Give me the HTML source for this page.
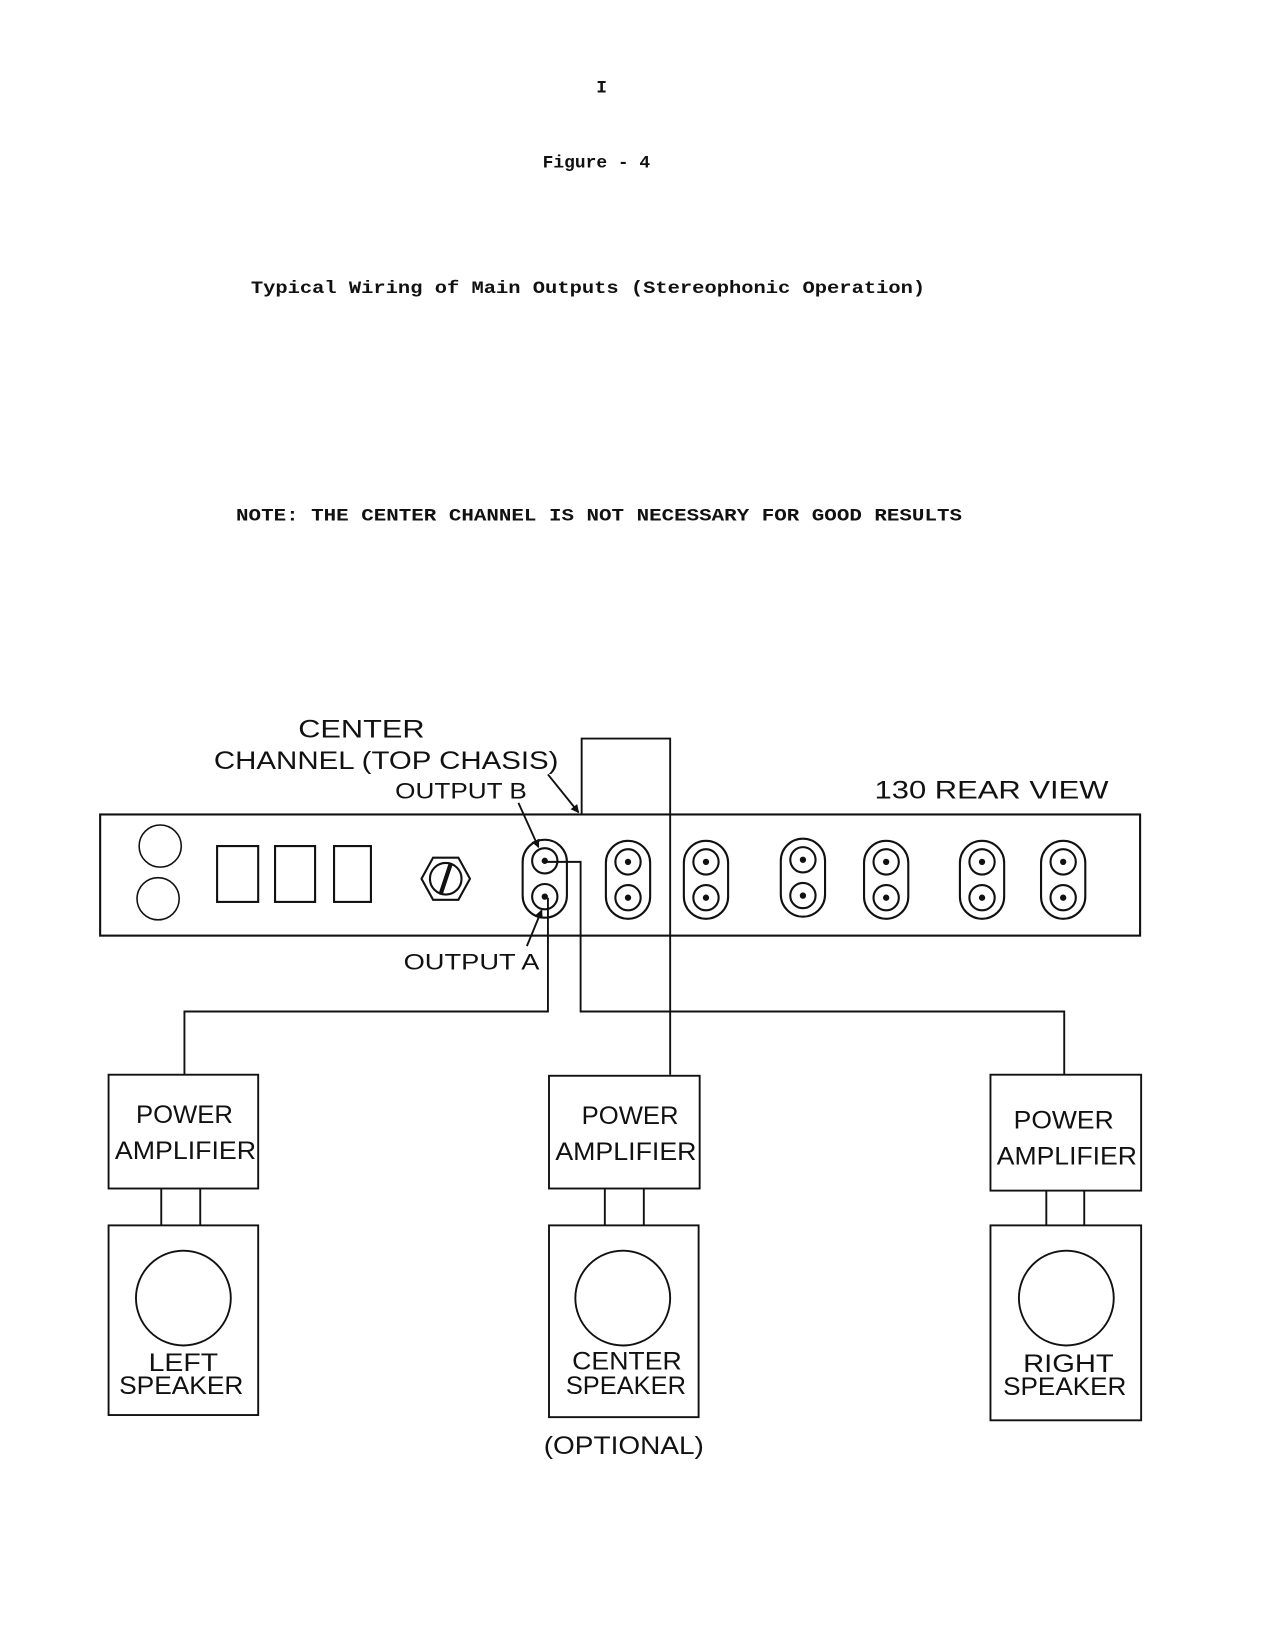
<!DOCTYPE html>
<html><head><meta charset="utf-8"><style>
html,body{margin:0;padding:0;background:#fff;}
svg{display:block;}
.m{font-family:"Liberation Mono",monospace;font-weight:bold;fill:#111;}
.h{font-family:"Liberation Sans",sans-serif;fill:#111;}
</style></head><body>
<svg width="1275" height="1650" viewBox="0 0 1210 1566" xmlns="http://www.w3.org/2000/svg">
<defs><marker id="ar" markerWidth="8" markerHeight="8" refX="7" refY="4" orient="auto" markerUnits="userSpaceOnUse"><path d="M0,0 L8,4 L0,8 z" fill="#111"/></marker>
<g id="j"><rect x="-21" y="-37" width="42" height="74" rx="21"/><circle cx="0" cy="-17" r="12"/><circle cx="0" cy="17" r="12"/><circle cx="0" cy="-17" r="2" fill="#111"/><circle cx="0" cy="17" r="2" fill="#111"/></g>
</defs>
<text class="m" x="571" y="88" font-size="17" text-anchor="middle">I</text>
<text class="m" x="566" y="159" font-size="17" text-anchor="middle">Figure - 4</text>
<text class="m" x="238" y="278" font-size="17" textLength="640" lengthAdjust="spacingAndGlyphs">Typical Wiring of Main Outputs (Stereophonic Operation)</text>
<text class="m" x="224" y="494" font-size="17" textLength="689" lengthAdjust="spacingAndGlyphs">NOTE:  THE CENTER CHANNEL IS NOT NECESSARY FOR GOOD RESULTS</text>

<g fill="none" stroke="#111" stroke-width="2">
<rect x="95" y="773" width="987" height="115"/>
<circle cx="152" cy="803" r="20" stroke-width="1.5"/>
<circle cx="150" cy="853" r="20" stroke-width="1.5"/>
<rect x="206" y="803" width="39" height="53"/>
<rect x="261" y="803" width="38" height="53"/>
<rect x="317" y="803" width="35" height="53"/>
<polygon points="400,834 411,814 435,814 446,834 435,854 411,854"/>
<circle cx="423" cy="834" r="15"/>
<line x1="418" y1="849" x2="428" y2="819" stroke-width="4"/>
</g>
<g fill="none" stroke="#111" stroke-width="2">
<use href="#j" x="517" y="834"/>
<use href="#j" x="596" y="835"/>
<use href="#j" x="670" y="835"/>
<use href="#j" x="762" y="833"/>
<use href="#j" x="841" y="835"/>
<use href="#j" x="932" y="835"/>
<use href="#j" x="1009" y="835"/>
</g>
<g fill="none" stroke="#111" stroke-width="1.8">
<polyline points="552,773 552,701 636,701 636,1020"/>
<polyline points="517,818 551,818 551,960 1010,960 1010,1020"/>
<polyline points="520,852 520,960 175,960 175,1020"/>
<line x1="520" y1="735" x2="549" y2="771" marker-end="url(#ar)"/>
<line x1="492" y1="762" x2="511" y2="804" marker-end="url(#ar)"/>
<line x1="500" y1="898" x2="514" y2="864" marker-end="url(#ar)"/>

<rect x="103" y="1020" width="142" height="108"/>
<rect x="521" y="1021" width="143" height="107"/>
<rect x="940" y="1020" width="143" height="110"/>
<line x1="153" y1="1128" x2="153" y2="1163"/><line x1="190" y1="1128" x2="190" y2="1163"/>
<line x1="574" y1="1128" x2="574" y2="1163"/><line x1="611" y1="1128" x2="611" y2="1163"/>
<line x1="993" y1="1130" x2="993" y2="1163"/><line x1="1029" y1="1130" x2="1029" y2="1163"/>
<rect x="103" y="1163" width="142" height="180"/>
<rect x="521" y="1163" width="142" height="182"/>
<rect x="940" y="1163" width="143" height="185"/>
<circle cx="174" cy="1232" r="45"/>
<circle cx="591" cy="1232" r="45"/>
<circle cx="1012" cy="1232" r="45"/>
</g>
<g class="h" font-size="24">
<text x="283" y="700" textLength="120" lengthAdjust="spacingAndGlyphs">CENTER</text>
<text x="203" y="730" textLength="327" lengthAdjust="spacingAndGlyphs">CHANNEL (TOP CHASIS)</text>
<text x="375" y="758" font-size="21" textLength="125" lengthAdjust="spacingAndGlyphs">OUTPUT B</text>
<text x="830" y="758" textLength="222" lengthAdjust="spacingAndGlyphs">130 REAR VIEW</text>
<text x="383" y="920" font-size="21" textLength="129" lengthAdjust="spacingAndGlyphs">OUTPUT A</text>
<text x="129" y="1066" textLength="92" lengthAdjust="spacingAndGlyphs">POWER</text>
<text x="109" y="1100" textLength="134" lengthAdjust="spacingAndGlyphs">AMPLIFIER</text>
<text x="552" y="1067" textLength="92" lengthAdjust="spacingAndGlyphs">POWER</text>
<text x="527" y="1101" textLength="134" lengthAdjust="spacingAndGlyphs">AMPLIFIER</text>
<text x="962" y="1071" textLength="95" lengthAdjust="spacingAndGlyphs">POWER</text>
<text x="946" y="1105" textLength="133" lengthAdjust="spacingAndGlyphs">AMPLIFIER</text>
<text x="141" y="1301" textLength="66" lengthAdjust="spacingAndGlyphs">LEFT</text>
<text x="113" y="1323" textLength="118" lengthAdjust="spacingAndGlyphs">SPEAKER</text>
<text x="543" y="1300" textLength="104" lengthAdjust="spacingAndGlyphs">CENTER</text>
<text x="537" y="1323" textLength="114" lengthAdjust="spacingAndGlyphs">SPEAKER</text>
<text x="971" y="1302" textLength="86" lengthAdjust="spacingAndGlyphs">RIGHT</text>
<text x="952" y="1324" textLength="117" lengthAdjust="spacingAndGlyphs">SPEAKER</text>
<text x="516" y="1380" textLength="152" lengthAdjust="spacingAndGlyphs">(OPTIONAL)</text>
</g>
</svg>
</body></html>
